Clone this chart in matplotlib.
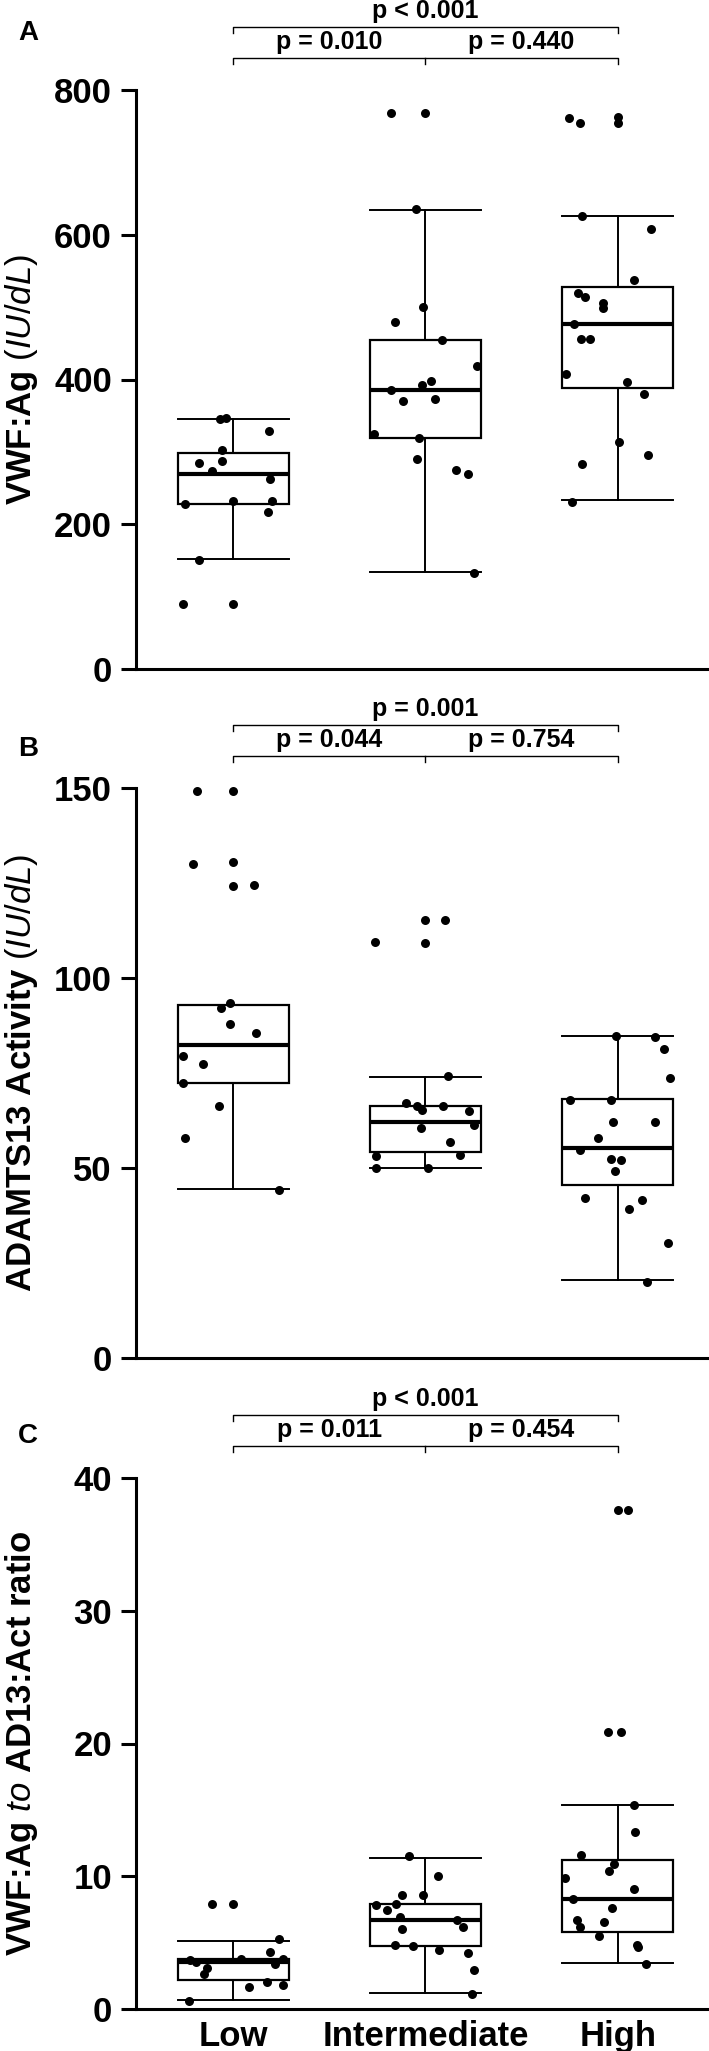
import matplotlib
matplotlib.use("Agg")
import matplotlib.pyplot as plt
from matplotlib.transforms import blended_transform_factory

plt.rcParams["font.family"] = ["Liberation Sans", "DejaVu Sans"]
plt.rcParams["mathtext.fontset"] = "custom"
plt.rcParams["mathtext.it"] = "Liberation Sans:style=italic:weight=normal"
plt.rcParams["mathtext.rm"] = "Liberation Sans:weight=normal"

GROUPS = ["Low", "Intermediate", "High"]

# ── Panel A: VWF:Ag ─────────────────────────────────────────────────────────
A_LOW = [90, 90, 151, 228, 232, 232, 217, 262, 274, 284, 288, 303, 329, 346, 347]
A_LOW_DX = [-0.26, 0.0, -0.18, -0.25, 0.0, 0.20, 0.18, 0.19, -0.11, -0.18, -0.06, -0.06, 0.185, -0.07, -0.04]
A_INT = [768, 768, 635, 500, 480, 455, 419, 398, 393, 385, 370, 373, 325, 319, 290, 275, 269, 132]
A_INT_DX = [-0.18, 0.0, -0.05, -0.015, -0.16, 0.085, 0.27, 0.03, -0.02, -0.18, -0.115, 0.05, -0.27, -0.035, -0.045, 0.16, 0.22, 0.25]
A_HIGH = [762, 754, 763, 754, 626, 608, 537, 519, 514, 506, 499, 476, 456, 456, 408, 396, 380, 314, 283, 295, 231]
A_HIGH_DX = [-0.255, -0.195, 0.0, 0.0, -0.185, 0.175, 0.085, -0.205, -0.17, -0.075, -0.075, -0.225, -0.19, -0.145, -0.27, 0.05, 0.135, 0.005, -0.185, 0.16, -0.24]
A_Q1 = [228.5, 319, 388.5]
A_MED = [270, 386, 477]
A_Q3 = [298, 455, 528]
A_WLO = [152.5, 134, 233]
A_WHI = [346, 634, 626]
A_P = ["p = 0.010", "p = 0.440", "p < 0.001"]

# ── Panel B: ADAMTS13 activity ──────────────────────────────────────────────
B_LOW = [149.2, 149.2, 129.9, 130.4, 124.2, 124.5, 93.4, 92, 88, 85.5, 79.4, 77.5, 72.4, 66.2, 58, 44.1]
B_LOW_DX = [-0.19, 0.0, -0.21, 0.0, 0.0, 0.11, -0.015, -0.065, -0.015, 0.12, -0.26, -0.155, -0.26, -0.075, -0.25, 0.24]
B_INT = [109.4, 115.2, 115.2, 109.1, 74.1, 67.1, 66.4, 65.3, 66.4, 64.9, 61.4, 60.5, 56.9, 53.5, 53.1, 50.1, 50.1]
B_INT_DX = [-0.265, 0.0, 0.10, 0.0, 0.115, -0.10, -0.045, -0.02, 0.09, 0.225, 0.255, -0.025, 0.13, 0.18, -0.26, -0.255, 0.015]
B_HIGH = [84.7, 84.6, 81.3, 73.6, 67.9, 67.9, 62.2, 62, 57.8, 54.7, 52.5, 52, 49.1, 42.2, 41.6, 39.2, 30.2, 20.1]
B_HIGH_DX = [-0.01, 0.195, 0.24, 0.27, -0.25, -0.035, -0.025, 0.195, -0.105, -0.195, -0.035, 0.015, -0.015, -0.17, 0.125, 0.06, 0.26, 0.155]
B_Q1 = [72.4, 54.2, 45.6]
B_MED = [82.4, 62.2, 55.3]
B_Q3 = [92.9, 66.2, 68.2]
B_WLO = [44.6, 50, 20.5]
B_WHI = [92.9, 74, 84.7]
B_P = ["p = 0.044", "p = 0.754", "p = 0.001"]

# ── Panel C: VWF:Ag to AD13:Act ratio ───────────────────────────────────────
C_LOW = [7.9, 7.9, 5.26, 4.29, 3.8, 3.68, 3.55, 3.77, 3.39, 3.1, 2.65, 1.65, 2.03, 1.84, 0.61]
C_LOW_DX = [-0.11, 0.0, 0.24, 0.19, 0.26, -0.225, -0.195, 0.04, 0.215, -0.135, -0.15, 0.08, 0.175, 0.26, -0.23]
C_INT = [11.5, 10.0, 8.6, 8.6, 7.87, 7.94, 7.42, 6.9, 6.7, 6.03, 6.16, 4.84, 4.77, 4.48, 4.19, 2.94, 1.16]
C_INT_DX = [-0.085, 0.065, -0.12, -0.015, -0.255, -0.155, -0.2, -0.13, 0.165, -0.12, 0.195, -0.16, -0.065, 0.07, 0.22, 0.255, 0.24]
C_HIGH = [37.6, 37.6, 20.9, 20.9, 15.4, 13.3, 11.6, 10.9, 10.4, 9.9, 9.06, 8.3, 7.6, 6.68, 6.58, 6.16, 5.48, 4.84, 4.7, 3.42]
C_HIGH_DX = [0.0, 0.055, -0.05, 0.015, 0.085, 0.09, -0.19, -0.02, -0.045, -0.275, 0.085, -0.235, -0.03, -0.21, -0.07, -0.195, -0.095, 0.1, 0.105, 0.145]
C_Q1 = [2.16, 4.77, 5.8]
C_MED = [3.55, 6.74, 8.32]
C_Q3 = [3.8, 7.9, 11.26]
C_WLO = [0.71, 1.23, 3.45]
C_WHI = [5.16, 11.4, 15.35]
C_P = ["p = 0.011", "p = 0.454", "p < 0.001"]

# ── Layout (pixels of the 709x2051 canvas) ──────────────────────────────────
W, H = 709, 2051
AX_LEFT = 136
BOX_W = 0.58
FS_TICK = 25
FS_YLAB = 25
FS_P = 18
FS_LETTER = 20


def py(px):
    return 1 - px / H


def draw_panel(fig, top, bottom, letter, letter_y, groups_vals, groups_dx,
               q1, med, q3, wlo, whi, pvals, yticks, ylabel, xlabels=False):
    ax = fig.add_axes([AX_LEFT / W, py(bottom), (W - AX_LEFT) / W, (bottom - top) / H])

    stats = []
    for i in range(3):
        stats.append(dict(q1=q1[i], med=med[i], q3=q3[i], whislo=wlo[i], whishi=whi[i]))
    ax.bxp(stats, positions=[0, 1, 2], widths=BOX_W, capwidths=BOX_W,
           showfliers=False, patch_artist=True,
           boxprops=dict(facecolor="white", edgecolor="black", linewidth=1.6),
           medianprops=dict(color="black", linewidth=3.0),
           whiskerprops=dict(color="black", linewidth=1.4),
           capprops=dict(color="black", linewidth=1.4))

    for i, (vals, dx) in enumerate(zip(groups_vals, groups_dx)):
        ax.scatter([i + d for d in dx], vals, s=42, color="black",
                   linewidths=0, zorder=4, clip_on=False)

    ax.set_xlim(-0.506, 2.475)
    ax.set_ylim(0, yticks[-1])
    ax.set_yticks(yticks)
    ax.set_yticklabels([str(t) for t in yticks], fontsize=FS_TICK, fontweight="bold")
    ax.tick_params(axis="y", length=10.8, width=2.2, pad=6.5)
    if xlabels:
        ax.set_xticks([0, 1, 2])
        ax.set_xticklabels(GROUPS, fontsize=FS_TICK, fontweight="bold")
        ax.tick_params(axis="x", length=0, pad=8)
    else:
        ax.set_xticks([])
    for s in ("top", "right"):
        ax.spines[s].set_visible(False)
    for s in ("left", "bottom"):
        ax.spines[s].set_linewidth(2.2)

    ax.set_ylabel(ylabel, fontsize=FS_YLAB, fontweight="bold")
    ax.yaxis.set_label_coords(-0.168, 0.5)

    # significance brackets
    tr = blended_transform_factory(ax.transData, fig.transFigure)
    y_top = top - 63
    y_low = top - 32
    tk = 6
    ax.plot([0, 0, 2, 2], [py(y_top + tk), py(y_top), py(y_top), py(y_top + tk)],
            transform=tr, color="black", lw=1.0, clip_on=False)
    ax.plot([0, 0, 2, 2], [py(y_low + tk), py(y_low), py(y_low), py(y_low + tk)],
            transform=tr, color="black", lw=1.0, clip_on=False)
    ax.plot([1, 1], [py(y_low), py(y_low + tk)],
            transform=tr, color="black", lw=1.0, clip_on=False)
    ax.text(0.5, py(top - 48), pvals[0], transform=tr, ha="center", va="center",
            fontsize=FS_P, fontweight="bold")
    ax.text(1.5, py(top - 48), pvals[1], transform=tr, ha="center", va="center",
            fontsize=FS_P, fontweight="bold")
    ax.text(1.0, py(top - 79), pvals[2], transform=tr, ha="center", va="center",
            fontsize=FS_P, fontweight="bold")

    fig.text(28 / W, py(letter_y), letter, ha="center", va="center",
             fontsize=FS_LETTER, fontweight="bold")
    return ax


fig = plt.figure(figsize=(W / 100, H / 100), dpi=100, facecolor="white")

draw_panel(fig, 90, 669, "A", 33,
           [A_LOW, A_INT, A_HIGH], [A_LOW_DX, A_INT_DX, A_HIGH_DX],
           A_Q1, A_MED, A_Q3, A_WLO, A_WHI, A_P,
           [0, 200, 400, 600, 800], r"VWF:Ag $\mathit{(IU/dL)}$")

draw_panel(fig, 788, 1358, "B", 749,
           [B_LOW, B_INT, B_HIGH], [B_LOW_DX, B_INT_DX, B_HIGH_DX],
           B_Q1, B_MED, B_Q3, B_WLO, B_WHI, B_P,
           [0, 50, 100, 150], r"ADAMTS13 Activity $\mathit{(IU/dL)}$")

draw_panel(fig, 1478, 2009, "C", 1436,
           [C_LOW, C_INT, C_HIGH], [C_LOW_DX, C_INT_DX, C_HIGH_DX],
           C_Q1, C_MED, C_Q3, C_WLO, C_WHI, C_P,
           [0, 10, 20, 30, 40], r"VWF:Ag $\mathit{to}$ AD13:Act ratio",
           xlabels=True)

fig.savefig("out.png", dpi=100, facecolor="white")
